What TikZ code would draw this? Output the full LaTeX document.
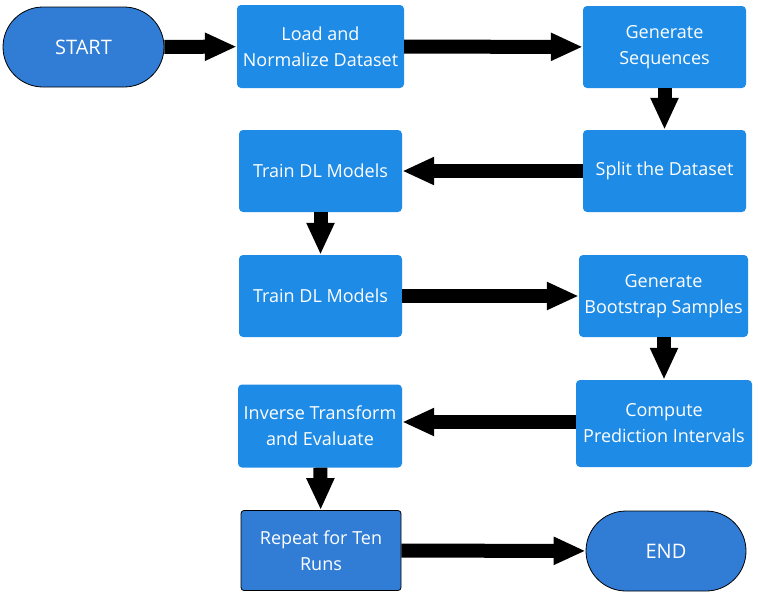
\documentclass[tikz,border=0pt]{standalone}
\usepackage{fontspec}
\setmainfont{Open Sans}
\usetikzlibrary{arrows.meta}
\definecolor{boxblue}{RGB}{30,139,230}
\definecolor{termblue}{RGB}{49,125,213}
\tikzset{
  proc/.style={rectangle, rounded corners=4pt, fill=boxblue, draw=none, text=white,
    align=center, inner sep=0pt, font=\fontsize{18}{26}\selectfont},
  term/.style={rectangle, rounded corners=40pt, fill=termblue, draw=black, line width=0.8pt,
    text=white, align=center, inner sep=0pt, font=\fontsize{20}{26}\selectfont},
  dproc/.style={rectangle, rounded corners=3pt, fill=termblue, draw=black, line width=0.8pt,
    text=white, align=center, inner sep=0pt, font=\fontsize{18}{26}\selectfont},
  flow/.style={draw=black, line width=14pt, -{Triangle[length=32pt,width=26pt]}},
}
\begin{document}
\begin{tikzpicture}[x=1pt,y=-1pt]
\useasboundingbox (0,0) rectangle (759,592);
\node[term, minimum width=161pt, minimum height=80pt] (start) at (83.5,47) {START};
\node[proc, minimum width=167pt, minimum height=83pt] (load) at (320.5,46.5) {Load and\\Normalize Dataset};
\node[proc, minimum width=163pt, minimum height=82pt] (gen) at (664.5,47) {Generate\\Sequences};
\node[proc, minimum width=163pt, minimum height=82pt] (split) at (664.5,171) {Split the Dataset};
\node[proc, minimum width=163pt, minimum height=82pt] (train1) at (320.5,171) {Train DL Models};
\node[proc, minimum width=163pt, minimum height=82pt] (train2) at (320.5,296) {Train DL Models};
\node[proc, minimum width=169pt, minimum height=82pt] (boot) at (663.5,296) {Generate\\Bootstrap Samples};
\node[proc, minimum width=176pt, minimum height=87pt] (comp) at (664,423.5) {Compute\\Prediction Intervals};
\node[proc, minimum width=164pt, minimum height=83pt] (inv) at (320,426) {Inverse Transform\\and Evaluate};
\node[dproc, minimum width=160pt, minimum height=80pt] (rep) at (321,550.5) {Repeat for Ten\\Runs};
\node[term, minimum width=160pt, minimum height=80pt] (end) at (666,551) {END};
\coordinate (ci) at (0,422);
\draw[flow] (start) -- (load);
\draw[flow] (load) -- (gen);
\draw[flow] (gen) -- (split);
\draw[flow] (split) -- (train1);
\draw[flow] (train1) -- (train2);
\draw[flow] (train2) -- (boot);
\draw[flow] (boot.south -| comp.north) -- (comp.north);
\draw[flow] (comp.west |- ci) -- (inv.east |- ci);
\draw[flow] (inv) -- (rep);
\draw[flow] (rep) -- (end);
\end{tikzpicture}
\end{document}
